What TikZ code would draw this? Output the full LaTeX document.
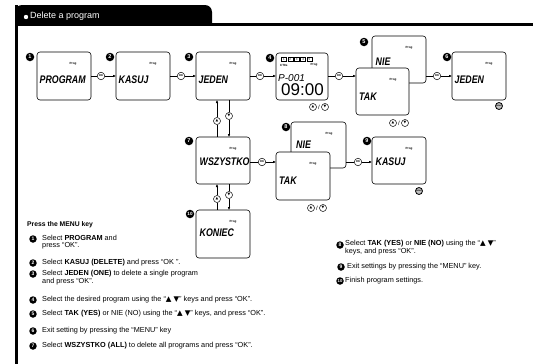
\documentclass[tikz,border=0pt]{standalone}
\usepackage{fontspec}
\setmainfont{Liberation Sans}
\newfontfamily\lcd[FakeStretch=0.8]{Liberation Sans}
\newfontfamily\sym{DejaVu Sans}
\usetikzlibrary{arrows.meta}
\begin{document}
\begin{tikzpicture}[x=1pt,y=-1pt,
  lcdbox/.style={draw, line width=0.6pt, rounded corners=3pt, fill=white, inner sep=0pt, outer sep=0pt, minimum width=54pt, minimum height=48pt},
  badge/.style={circle, fill=black, inner sep=0pt, minimum size=8.5pt, text=white, font=\fontsize{5.5}{5.5}\selectfont\bfseries},
  tbadge/.style={circle, fill=black, inner sep=0pt, minimum size=7.5pt, text=white, font=\fontsize{5}{5}\selectfont\bfseries},
  okc/.style={circle, draw, line width=0.5pt, fill=white, inner sep=0pt, minimum size=7.5pt, font=\fontsize{2.8}{3}\selectfont\bfseries},
  keyc/.style={circle, draw, line width=0.5pt, fill=white, inner sep=0pt, minimum size=7pt, font=\sym\fontsize{3.5}{3.5}\selectfont},
  menuc/.style={circle, draw, line width=0.8pt, fill=black!25, inner sep=0pt, minimum size=7pt, font=\fontsize{1.8}{2}\selectfont\bfseries},
  conn/.style={line width=0.5pt},
  arr/.style={conn, -{Latex[length=3pt,width=2.6pt]}},
  word/.style={anchor=west, inner sep=0pt, font=\lcd\bfseries\itshape\fontsize{11}{11}\selectfont},
  progl/.style={inner sep=0pt, font=\fontsize{3}{3}\selectfont\bfseries},
  txt/.style={anchor=west, inner sep=0pt, font=\fontsize{7.3}{8}\selectfont},
  slash/.style={inner sep=0pt, font=\fontsize{6}{6}\selectfont}
]
\useasboundingbox (0,0) rectangle (533,364);
\fill[white] (0,0) rectangle (533,364);
% frame
\fill[rounded corners=7pt] (15,5) rectangle (212,32);
\fill (15,16) rectangle (212,26);
\fill (15,23) rectangle (533,25.5);
\fill (15,5) rectangle (17.5,364);
\fill[white] (15.5+2,26) rectangle (533,34);
\fill (15,20) rectangle (17.5,364);
\fill[white] (26,17) circle (2.2pt);
\node[anchor=west, inner sep=0pt, text=white, font=\fontsize{9}{9}\selectfont] (title) at (30,16) {Delete a program};

% ---- row 1 screens
\node[lcdbox] (b1) at (64,76) {};
\node[word] (w1) at (39.5,80) {PROGRAM};
\node[progl] (p1) at (73,64) {Prog};
\node[badge] (n1) at (30,57) {1};

\node[lcdbox] (b2) at (143,76) {};
\node[word] (w2) at (118.5,80) {KASUJ};
\node[progl] (p2) at (153,64) {Prog};
\node[badge] (n2) at (110,57) {2};

\node[lcdbox] (b3) at (223,76) {};
\node[word] (w3) at (198.5,80) {JEDEN};
\node[progl] (p3) at (233,64) {Prog};
\node[badge] (n3) at (189,57) {3};

\node[lcdbox, minimum width=52pt, minimum height=47pt] (b4) at (302,76.5) {};
\foreach \i in {1,...,5}{
  \node[draw, line width=0.35pt, inner sep=0pt, minimum width=5pt, minimum height=4.5pt, font=\fontsize{3}{3}\selectfont] (d\i) at ({277.5+6.4*\i},59) {\i};
}
\node[progl, anchor=west] (ct) at (280,65) {CT8s};
\node[progl] (p4) at (314,65) {Prog};
\node[anchor=west, inner sep=0pt, font=\fontsize{10}{10}\selectfont\itshape] (pnum) at (278,78) {P-001};
\node[anchor=west, inner sep=0pt, font=\fontsize{17}{17}\selectfont] (time) at (281,90) {09:00};
\node[badge] (n4) at (270,58) {4};
\node[keyc] (k4u) at (313,107) {▲};
\node[slash] (s4) at (319,107) {/};
\node[keyc] (k4d) at (325,107) {▼};

\node[lcdbox, minimum height=47pt] (b5n) at (399,59.5) {};
\node[word] (w5n) at (375.5,62) {NIE};
\node[progl] (p5n) at (409,48) {Prog};
\node[lcdbox, minimum width=53pt, minimum height=47pt] (b5t) at (382.5,91.5) {};
\node[word] (w5t) at (359,97) {TAK};
\node[progl] (p5t) at (393,80) {Prog};
\node[badge] (n5) at (364,42) {5};
\node[keyc] (k5u) at (393,123) {▲};
\node[slash] (s5) at (399,123) {/};
\node[keyc] (k5d) at (405,123) {▼};

\node[lcdbox] (b6) at (479,76) {};
\node[word] (w6) at (454.5,80) {JEDEN};
\node[progl] (p6) at (489,64) {Prog};
\node[badge] (n6) at (447,57) {6};
\node[menuc] (m6) at (499,106) {MENU};

% ---- row 2 screens
\node[lcdbox, minimum height=47pt] (b7) at (223,160.5) {};
\node[word] (w7) at (199.5,162) {WSZYSTKO};
\node[progl] (p7) at (233,149) {Prog};
\node[badge] (n7) at (189,141) {7};

\node[lcdbox, minimum width=55pt, minimum height=46pt] (b8n) at (318.5,145) {};
\node[word] (w8n) at (296,145) {NIE};
\node[progl] (p8n) at (329,134) {Prog};
\node[lcdbox] (b8t) at (303,176) {};
\node[word] (w8t) at (279,181) {TAK};
\node[progl] (p8t) at (313,164) {Prog};
\node[badge] (n8) at (286,127) {8};
\node[keyc] (k8u) at (311,208) {▲};
\node[slash] (s8) at (317,208) {/};
\node[keyc] (k8d) at (323,208) {▼};

\node[lcdbox, minimum height=47pt] (b9) at (399,160.5) {};
\node[word] (w9) at (375.5,162) {KASUJ};
\node[progl] (p9) at (409,149) {Prog};
\node[badge] (n9) at (367,141) {9};
\node[menuc] (m9) at (419,191) {MENU};

\node[lcdbox] (b10) at (223,234) {};
\node[word] (w10) at (199.5,233) {KONIEC};
\node[progl] (p10) at (233,222) {Prog};
\node[badge, font=\fontsize{4.6}{4.6}\selectfont\bfseries] (n10) at (190,214) {10};

% ---- OK connectors
\node[okc] (ok12) at (101,76) {OK};
\draw[conn] (b1.east |- ok12) -- (ok12);
\draw[arr] (ok12) -- (b2.west |- ok12);
\node[okc] (ok23) at (181,76) {OK};
\draw[conn] (b2.east |- ok23) -- (ok23);
\draw[arr] (ok23) -- (b3.west |- ok23);
\node[okc] (ok34) at (260,76) {OK};
\draw[conn] (b3.east |- ok34) -- (ok34);
\draw[arr] (ok34) -- (b4.west |- ok34);
\node[okc] (ok45) at (339,76) {OK};
\draw[conn] (b4.east |- ok45) -- (ok45);
\draw[arr] (ok45) -- (b5t.west |- ok45);
\node[okc] (ok56) at (437,76) {OK};
\draw[conn] (b5n.east |- ok56) -- (ok56);
\draw[arr] (ok56) -- (b6.west |- ok56);
\node[okc] (ok78) at (262,162) {OK};
\draw[conn] (b7.east |- ok78) -- (ok78);
\draw[arr] (ok78) -- (b8t.west |- ok78);
\node[okc] (ok89) at (358,162) {OK};
\draw[conn] (b8n.east |- ok89) -- (ok89);
\draw[arr] (ok89) -- (b9.west |- ok89);

% ---- vertical connectors
\node[keyc] (u37) at (217,121) {▲};
\node[keyc] (d37) at (229,116) {▼};
\draw[conn] (u37) -- (u37 |- b7.north);
\draw[arr] (u37) -- (u37 |- b3.south);
\draw[conn] (d37) -- (d37 |- b3.south);
\draw[arr] (d37) -- (d37 |- b7.north);
\node[keyc] (u710) at (217,199) {▲};
\node[keyc] (d710) at (229,195) {▼};
\draw[conn] (u710) -- (u710 |- b10.north);
\draw[arr] (u710) -- (u710 |- b7.south);
\draw[conn] (d710) -- (d710 |- b7.south);
\draw[arr] (d710) -- (d710 |- b10.north);

% ---- text block, left
\node[txt, font=\fontsize{6.8}{8}\selectfont\bfseries] (press) at (27,225) {Press the MENU key};
\node[tbadge] (t1) at (33,239) {1};
\node[txt] (l1a) at (42,238) {Select \textbf{PROGRAM} and};
\node[txt] (l1b) at (42,246) {press “OK”.};
\node[tbadge] (t2) at (33,263) {2};
\node[txt] (l2) at (42,263) {Select \textbf{KASUJ (DELETE)} and press “OK ”.};
\node[tbadge] (t3) at (33,274) {3};
\node[txt] (l3a) at (42,274) {Select \textbf{JEDEN (ONE)} to delete a single program};
\node[txt] (l3b) at (42,282) {and press “OK”.};
\node[tbadge] (t4) at (33,300) {4};
\node[txt] (l4) at (42,300) {Select the desired program using the “{\sym▲} {\sym▼}” keys and press “OK”.};
\node[tbadge] (t5) at (33,314) {5};
\node[txt] (l5) at (42,314) {Select \textbf{TAK (YES)} or NIE (NO) using the “{\sym▲} {\sym▼}” keys, and press “OK”.};
\node[tbadge] (t6) at (33,331) {6};
\node[txt] (l6) at (42,331) {Exit setting by pressing the “MENU” key};
\node[tbadge] (t7) at (33,346) {7};
\node[txt] (l7) at (42,346) {Select \textbf{WSZYSTKO (ALL)} to delete all programs and press “OK”.};

% ---- text block, right
\node[tbadge] (t8) at (340,245) {8};
\node[txt] (l8a) at (345,244) {Select \textbf{TAK (YES)} or \textbf{NIE (NO)} using the “{\sym▲} {\sym▼}”};
\node[txt] (l8b) at (345,252) {keys, and press “OK”.};
\node[tbadge] (t9) at (341,267) {9};
\node[txt] (l9) at (347,267) {Exit settings by pressing the “MENU” key.};
\node[tbadge, font=\fontsize{4.2}{4.2}\selectfont\bfseries] (t10) at (340,281) {10};
\node[txt] (l10) at (345,281) {Finish program settings.};
\end{tikzpicture}
\end{document}
